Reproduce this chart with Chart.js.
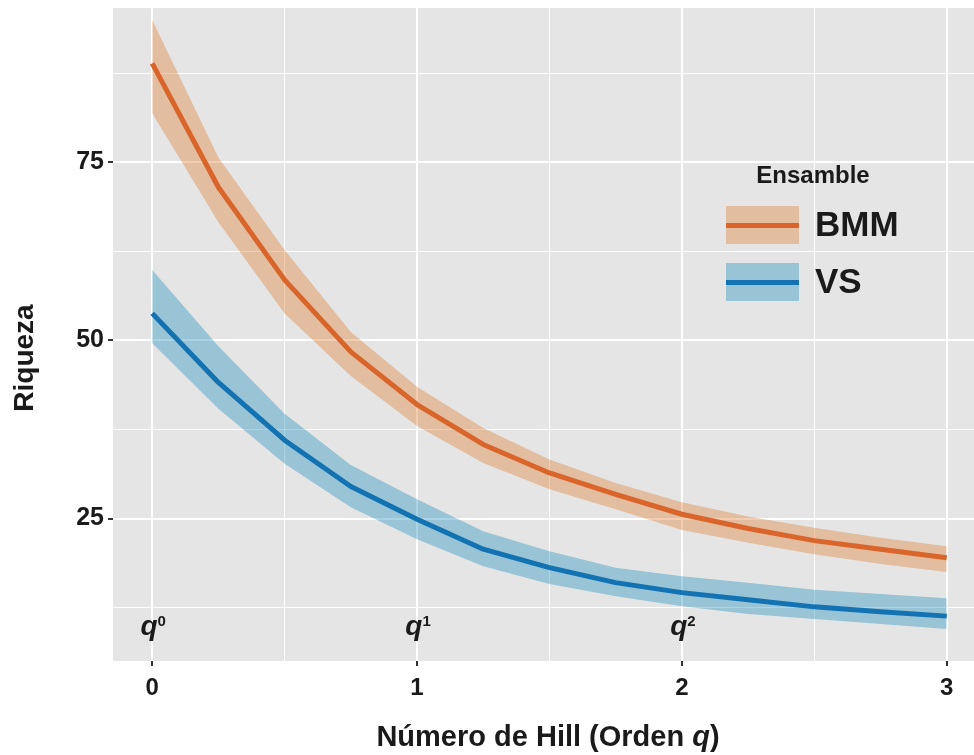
<!DOCTYPE html>
<html>
<head>
<meta charset="utf-8">
<script src="https://cdn.jsdelivr.net/npm/chart.js@4.4.1/dist/chart.umd.min.js"></script>
<style>
  html, body { margin: 0; padding: 0; background: #ffffff; }
  #wrap { width: 974px; height: 755px; }
</style>
</head>
<body>
<div id="wrap"><canvas id="grafico" width="974" height="755"></canvas></div>
<script>
// ─── Datos ────────────────────────────────────────────────────────────────────
const ordenQ   = [0, 0.25, 0.5, 0.75, 1, 1.25, 1.5, 1.75, 2, 2.25, 2.5, 2.75, 3];

const bmmEst   = [88.9, 71.5, 58.5, 48.4, 41.0, 35.4, 31.4, 28.4, 25.6, 23.6, 21.9, 20.7, 19.5];
const bmmSup   = [95.0, 75.7, 62.7, 51.2, 43.5, 37.7, 33.3, 30.0, 27.3, 25.3, 23.7, 22.3, 21.1];
const bmmInf   = [81.9, 66.6, 53.8, 45.0, 38.0, 32.8, 29.1, 26.3, 23.4, 21.6, 20.0, 18.6, 17.5];

const vsEst    = [53.8, 44.1, 36.0, 29.5, 24.9, 20.7, 18.1, 16.0, 14.6, 13.6, 12.6, 11.9, 11.3];
const vsSup    = [59.9, 49.2, 39.7, 32.5, 27.7, 23.2, 20.4, 18.1, 16.9, 16.0, 15.0, 14.4, 13.8];
const vsInf    = [49.6, 40.4, 32.7, 26.6, 22.1, 18.3, 15.8, 14.1, 12.7, 11.6, 10.9, 10.2, 9.5];

const ticksX       = [0, 0.5, 1, 1.5, 2, 2.5, 3];
const ticksY       = [12.5, 25, 37.5, 50, 62.5, 75, 87.5];
const etiquetasX   = ['0', '1', '2', '3'];
const etiquetasY   = ['25', '50', '75'];

const notaX        = [0, 1, 2];
const notaExp      = ['0', '1', '2'];
const notaY        = 8.6;

const grupos       = ['BMM', 'VS'];

// ─── Estilos ──────────────────────────────────────────────────────────────────
const FUENTE     = '"Liberation Sans", Arial, sans-serif';
const TINTA      = '#1a1a1a';
const FONDO      = '#e5e5e5';
const COLOR_BMM  = '#d9652b';
const COLOR_VS   = '#1272b2';
const BANDA_BMM  = 'rgba(224,129,56,0.40)';
const BANDA_VS   = 'rgba(37,147,192,0.40)';

const pares = ys => ordenQ.map((q, i) => ({ x: q, y: ys[i] }));
const esMayor = v => Math.abs(v - Math.round(v)) < 1e-6;
const esMayorY = v => Math.abs(v / 25 - Math.round(v / 25)) < 1e-6;

const linea = (datos, color) => ({
  data: pares(datos), borderColor: color, borderWidth: 5,
  pointRadius: 0, tension: 0, fill: false, borderJoinStyle: 'round',
});
const banda = (datos, color, relleno) => ({
  data: pares(datos), borderWidth: 0, borderColor: 'transparent',
  backgroundColor: color, pointRadius: 0, tension: 0, fill: relleno,
});

// ─── Plugin: fondo del panel, títulos, notas y leyenda ────────────────────────
const extras = {
  id: 'extras',
  beforeDraw(chart) {
    const { ctx, chartArea: a } = chart;
    ctx.save();
    ctx.fillStyle = FONDO;
    ctx.fillRect(a.left, a.top, a.right - a.left, a.bottom - a.top);
    ctx.restore();
  },
  afterDraw(chart) {
    const { ctx } = chart;
    const sx = chart.scales.x, sy = chart.scales.y;
    ctx.save();
    ctx.fillStyle = TINTA;

    // notas q^n
    notaX.forEach((v, i) => {
      ctx.font = `italic bold 28px ${FUENTE}`;
      const wq = ctx.measureText('q').width;
      ctx.font = `bold 15px ${FUENTE}`;
      const we = ctx.measureText(notaExp[i]).width;
      const x0 = sx.getPixelForValue(v) - (wq + we) / 2 + 1;
      const yb = sy.getPixelForValue(notaY);
      ctx.textAlign = 'left';
      ctx.textBaseline = 'alphabetic';
      ctx.font = `italic bold 28px ${FUENTE}`;
      ctx.fillText('q', x0, yb);
      ctx.font = `bold 15px ${FUENTE}`;
      ctx.fillText(notaExp[i], x0 + wq, yb - 9);
    });

    // título eje x
    const partes = [
      ['Número de Hill (Orden ', `bold 29px ${FUENTE}`],
      ['q', `italic bold 29px ${FUENTE}`],
      [')', `bold 29px ${FUENTE}`],
    ];
    let total = 0;
    partes.forEach(([t, f]) => { ctx.font = f; total += ctx.measureText(t).width; });
    let xt = 548 - total / 2;
    ctx.textAlign = 'left';
    ctx.textBaseline = 'alphabetic';
    partes.forEach(([t, f]) => { ctx.font = f; ctx.fillText(t, xt, 746); xt += ctx.measureText(t).width; });

    // título eje y
    ctx.save();
    ctx.translate(33, 358);
    ctx.rotate(-Math.PI / 2);
    ctx.font = `bold 28px ${FUENTE}`;
    ctx.textAlign = 'center';
    ctx.fillText('Riqueza', 0, 0);
    ctx.restore();

    // leyenda
    ctx.font = `bold 24px ${FUENTE}`;
    ctx.textAlign = 'center';
    ctx.textBaseline = 'middle';
    ctx.fillText('Ensamble', 813, 176);
    const colores = [[BANDA_BMM, COLOR_BMM], [BANDA_VS, COLOR_VS]];
    grupos.forEach((g, i) => {
      const top = 206 + i * 57;
      ctx.fillStyle = colores[i][0];
      ctx.fillRect(726, top, 73, 38);
      ctx.fillStyle = colores[i][1];
      ctx.fillRect(726, top + 17, 73, 5);
      ctx.fillStyle = TINTA;
      ctx.font = `bold 35px ${FUENTE}`;
      ctx.textAlign = 'left';
      ctx.fillText(g, 815, top + 20);
    });
    ctx.restore();
  },
};

// ─── Gráfico ──────────────────────────────────────────────────────────────────
new Chart(document.getElementById('grafico').getContext('2d'), {
  type: 'line',
  data: {
    datasets: [
      linea(bmmEst, COLOR_BMM),
      linea(vsEst, COLOR_VS),
      banda(bmmSup, BANDA_BMM, '+1'),
      banda(bmmInf, 'transparent', false),
      banda(vsSup, BANDA_VS, '+1'),
      banda(vsInf, 'transparent', false),
    ],
  },
  options: {
    responsive: false,
    animation: false,
    devicePixelRatio: 1,
    layout: { padding: { top: 8, right: 0, bottom: 0, left: 0 } },
    plugins: { legend: { display: false }, tooltip: { enabled: false } },
    scales: {
      x: {
        type: 'linear',
        min: -0.148,
        max: 3.103,
        afterBuildTicks: s => { s.ticks = ticksX.map(v => ({ value: v })); },
        afterFit: s => { s.height = 94; s.paddingLeft = 0; s.paddingRight = 0; },
        border: { display: false },
        grid: {
          color: '#ffffff',
          lineWidth: c => (esMayor(c.tick.value) ? 2 : 1),
          tickColor: c => (esMayor(c.tick.value) ? '#333333' : 'rgba(0,0,0,0)'),
          tickWidth: 2,
          tickLength: 5,
        },
        ticks: {
          autoSkip: false,
          maxRotation: 0,
          padding: 8,
          color: TINTA,
          font: { family: FUENTE, size: 24, weight: 'bold' },
          callback: v => (esMayor(v) ? etiquetasX[Math.round(v)] : ''),
        },
      },
      y: {
        type: 'linear',
        min: 5.0,
        max: 96.67,
        afterBuildTicks: s => { s.ticks = ticksY.map(v => ({ value: v })); },
        afterFit: s => { s.width = 113; s.paddingTop = 0; s.paddingBottom = 0; },
        border: { display: false },
        grid: {
          color: '#ffffff',
          lineWidth: c => (esMayorY(c.tick.value) ? 2 : 1),
          tickColor: c => (esMayorY(c.tick.value) ? '#333333' : 'rgba(0,0,0,0)'),
          tickWidth: 2,
          tickLength: 5,
        },
        ticks: {
          autoSkip: false,
          padding: 4,
          color: TINTA,
          font: { family: FUENTE, size: 25, weight: 'bold' },
          callback: v => (esMayorY(v) ? etiquetasY[Math.round(v / 25) - 1] : ''),
        },
      },
    },
  },
  plugins: [extras],
});
</script>
</body>
</html>
